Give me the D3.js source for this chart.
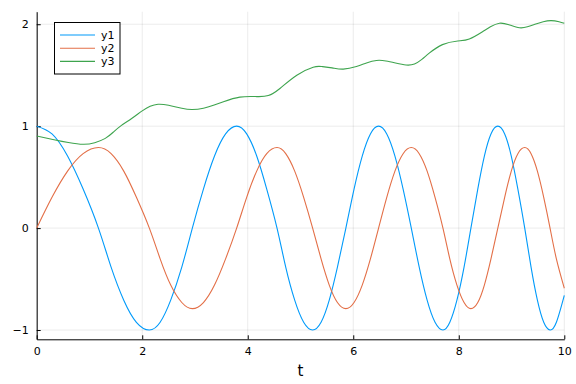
<!DOCTYPE html>
<html>
<head>
<meta charset="utf-8">
<script src="https://cdn.jsdelivr.net/npm/d3@7"></script>
<style>
  body { margin: 0; background: #fff; }
  svg { display: block; font-family: "DejaVu Sans", sans-serif; }
</style>
</head>
<body>
<svg id="chart" width="576" height="384"></svg>
<script>
const tOsc = [0, 0.29, 0.585, 0.88, 1.17, 1.41, 1.65, 1.89, 2.135, 2.34, 2.54, 2.75, 2.95,
  3.16, 3.37, 3.58, 3.79, 3.98, 4.17, 4.36, 4.555, 4.72, 4.89, 5.06, 5.23, 5.39, 5.545,
  5.70, 5.86, 6.015, 6.17, 6.325, 6.48, 6.635, 6.79, 6.945, 7.10, 7.25, 7.40, 7.55, 7.70,
  7.83, 7.965, 8.10, 8.23, 8.36, 8.485, 8.61, 8.74, 8.87, 8.995, 9.12, 9.25, 9.37, 9.49,
  9.61, 9.73, 9.85, 10];
const y1 = [1, 0.924, 0.707, 0.383, 0, -0.383, -0.707, -0.924, -1, -0.924, -0.707, -0.383, 0,
  0.383, 0.707, 0.924, 1, 0.924, 0.707, 0.383, 0, -0.383, -0.707, -0.924, -1, -0.924, -0.707,
  -0.383, 0, 0.383, 0.707, 0.924, 1, 0.924, 0.707, 0.383, 0, -0.383, -0.707, -0.924, -1,
  -0.924, -0.707, -0.383, 0, 0.383, 0.707, 0.924, 1, 0.924, 0.707, 0.383, 0, -0.383, -0.707,
  -0.924, -1, -0.924, -0.66];
const y2 = [0, 0.302, 0.559, 0.73, 0.79, 0.73, 0.559, 0.302, 0, -0.302, -0.559, -0.73, -0.79,
  -0.73, -0.559, -0.302, 0, 0.302, 0.559, 0.73, 0.79, 0.73, 0.559, 0.302, 0, -0.302, -0.559,
  -0.73, -0.79, -0.73, -0.559, -0.302, 0, 0.302, 0.559, 0.73, 0.79, 0.73, 0.559, 0.302, 0,
  -0.302, -0.559, -0.73, -0.79, -0.73, -0.559, -0.302, 0, 0.302, 0.559, 0.73, 0.79, 0.73, 0.559,
  0.302, 0, -0.302, -0.59];

// y3 has its own sample points
const t3 = [0, 0.35, 0.6, 0.88, 1.1, 1.3, 1.45, 1.6, 1.8, 2.0, 2.15, 2.3, 2.5, 2.75, 2.95,
  3.16, 3.35, 3.54, 3.85, 4.17, 4.39, 4.61, 4.93, 5.24, 5.4, 5.6, 5.81, 6.06, 6.25, 6.44,
  6.62, 6.8, 7.0, 7.16, 7.3, 7.44, 7.69, 7.98, 8.2, 8.45, 8.6, 8.77, 8.95, 9.15, 9.3, 9.46,
  9.6, 9.75, 9.9, 10];
const y3 = [0.904, 0.865, 0.84, 0.822, 0.838, 0.88, 0.94, 1.005, 1.075, 1.15, 1.195, 1.215,
  1.205, 1.175, 1.163, 1.176, 1.205, 1.24, 1.285, 1.29, 1.3, 1.37, 1.5, 1.578, 1.585, 1.572,
  1.56, 1.585, 1.62, 1.645, 1.64, 1.62, 1.6, 1.61, 1.655, 1.716, 1.8, 1.836, 1.856, 1.927,
  1.975, 2.01, 1.995, 1.965, 1.975, 2.003, 2.025, 2.035, 2.025, 2.01];

const xTicks = [0, 2, 4, 6, 8, 10];
const yTicks = [-1, 0, 1, 2];
const names = ["y1", "y2", "y3"];
const colors = ["#009afa", "#e36f47", "#3ea44e"];

const svg = d3.select("#chart");
const x = d3.scaleLinear().domain([0, 10]).range([36.7, 564.3]);
const y = d3.scaleLinear().domain([-1.091, 2.123]).range([339.3, 11.7]);

// grid
svg.append("g").selectAll("line").data(xTicks).join("line")
  .attr("x1", d => x(d)).attr("x2", d => x(d))
  .attr("y1", y.range()[1]).attr("y2", y.range()[0])
  .attr("stroke", "#000").attr("stroke-opacity", 0.08);
svg.append("g").selectAll("line").data(yTicks).join("line")
  .attr("x1", x.range()[0]).attr("x2", x.range()[1])
  .attr("y1", d => y(d)).attr("y2", d => y(d))
  .attr("stroke", "#000").attr("stroke-opacity", 0.08);

// axes, ticks point inward like Plots.jl
const fmt = d => d < 0 ? "\u2212" + Math.abs(d) : String(d);
const xAxis = svg.append("g")
  .attr("transform", `translate(0,${y.range()[0]})`)
  .call(d3.axisBottom(x).tickValues(xTicks).tickSizeInner(-4).tickSizeOuter(0).tickPadding(8).tickFormat(fmt));
const yAxis = svg.append("g")
  .attr("transform", `translate(${x.range()[0]},0)`)
  .call(d3.axisLeft(y).tickValues(yTicks).tickSizeInner(-4).tickSizeOuter(0).tickPadding(8).tickFormat(fmt));
[xAxis, yAxis].forEach(g => {
  g.select(".domain").attr("stroke", "#000");
  g.selectAll(".tick line").attr("stroke", "#000");
  g.selectAll(".tick text").attr("font-size", 11).attr("fill", "#000")
    .attr("font-family", "DejaVu Sans, sans-serif");
});

svg.append("text")
  .attr("x", (x.range()[0] + x.range()[1]) / 2).attr("y", 376)
  .attr("text-anchor", "middle").attr("font-size", 15).text("t");

// series
const line = d3.line().curve(d3.curveNatural);
const series = [
  tOsc.map((t, i) => [x(t), y(y1[i])]),
  tOsc.map((t, i) => [x(t), y(y2[i])]),
  t3.map((t, i) => [x(t), y(y3[i])])
];
svg.append("g").selectAll("path").data(series).join("path")
  .attr("d", d => line(d))
  .attr("fill", "none")
  .attr("stroke", (d, i) => colors[i])
  .attr("stroke-width", 1.1);

// legend
const lg = svg.append("g");
lg.append("rect").attr("x", 54.5).attr("y", 22.5).attr("width", 65.5).attr("height", 51.5)
  .attr("fill", "#fff").attr("stroke", "#000").attr("stroke-width", 1);
names.forEach((n, i) => {
  const yy = 35 + i * 13.2;
  lg.append("line").attr("x1", 60).attr("x2", 95).attr("y1", yy).attr("y2", yy)
    .attr("stroke", colors[i]).attr("stroke-width", 1.1);
  lg.append("text").attr("x", 101).attr("y", yy).attr("dy", "0.35em")
    .attr("font-size", 11).text(n);
});
</script>
</body>
</html>
